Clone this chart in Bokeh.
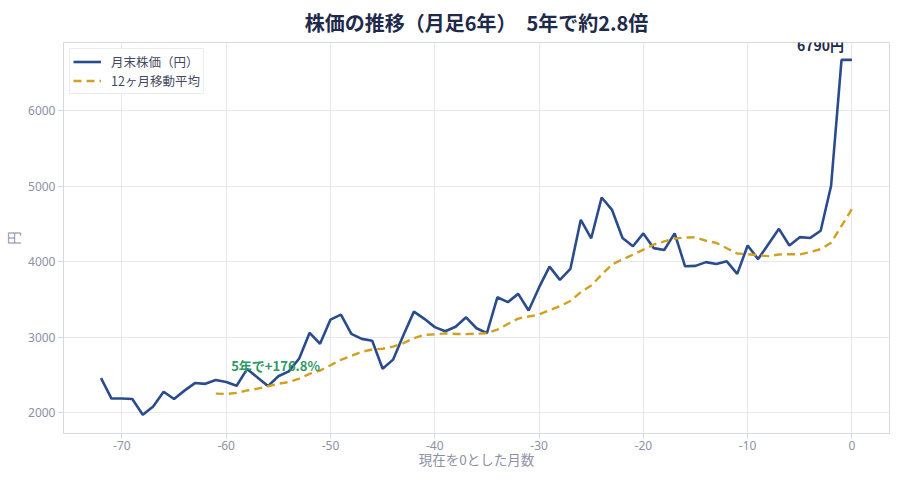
from bokeh.plotting import figure
from bokeh.models import Range1d, FixedTicker
from bokeh.core.properties import value
from bokeh.embed import file_html
from bokeh.resources import INLINE
import pandas as pd

months = list(range(-72, 1))
prices = [
    2460, 2190, 2190, 2185, 1975, 2085, 2280, 2185, 2295, 2395, 2385, 2435,
    2410, 2360, 2580, 2470, 2355, 2485, 2550, 2720, 3060, 2915, 3235, 3300,
    3045, 2980, 2955, 2585, 2705, 3030, 3340, 3245, 3135, 3080, 3140, 3265,
    3120, 3055, 3530, 3465, 3575, 3355, 3660, 3935, 3760, 3905, 4555, 4310,
    4850, 4685, 4315, 4205, 4375, 4180, 4155, 4375, 3940, 3945, 3995, 3970,
    4005, 3840, 4215, 4035, 4235, 4435, 4215, 4325, 4315, 4410, 5005, 6670,
    6670,
]
# 12-month moving average of the monthly closes (as the chart's legend says)
ma12 = pd.Series(prices).rolling(12).mean().tolist()
ma_months = [m for m, v in zip(months, ma12) if v == v]
ma_vals = [v for v in ma12 if v == v]

x_ticks = [-70, -60, -50, -40, -30, -20, -10, 0]
x_tick_labels = ["-70", "-60", "-50", "-40", "-30", "-20", "-10", "0"]
y_ticks = [2000, 3000, 4000, 5000, 6000]
title_text = "株価の推移（月足6年）　5年で約2.8倍"
series_names = ["月末株価（円）", "12ヶ月移動平均"]
last_label = "6790円"
growth_label = "5年で+176.8%"
x_label = "現在を0とした月数"
y_label = "円"

FONT = "Noto Sans CJK JP"
BLUE = "#2b4c8c"
GOLD = "#d0a020"
GREEN = "#2e9964"
GRID = "#e6e8f0"
AXIS = "#d5d9e4"
TICKTXT = "#8c91a6"

p = figure(frame_width=826, frame_height=391, output_backend="svg",
           toolbar_location=None,
           x_range=Range1d(-75.6, 3.6), y_range=Range1d(1728, 6900),
           min_border_left=55, min_border_right=3, min_border_top=34,
           min_border_bottom=0, background_fill_color="white",
           border_fill_color="white")

p.title.text = title_text
p.title.align = "center"
p.title.text_font = FONT
p.title.text_font_size = "20px"
p.title.text_font_style = "bold"
p.title.text_color = "#1e2a4a"
p.title.offset = 0
p.title.standoff = 11

p.line(months, prices, line_color=BLUE, line_width=2.6, legend_label=series_names[0])
p.line(ma_months, ma_vals, line_color=GOLD, line_width=2.4, line_dash="8 5",
       legend_label=series_names[1])

p.text(x=[months[-1]], y=[prices[-1]], text=[last_label], text_font=value(FONT),
       text_font_size="14px", text_font_style="bold", text_color="#1e2a4a",
       text_align="right", text_baseline="bottom", x_offset=-8, y_offset=-5)
p.text(x=[months[12]], y=[prices[12]], text=[growth_label], text_font=value(FONT),
       text_font_size="13px", text_font_style="bold", text_color=GREEN,
       text_align="left", text_baseline="bottom", x_offset=5, y_offset=-7)

p.outline_line_color = AXIS
p.outline_line_width = 1
p.xgrid.grid_line_color = GRID
p.ygrid.grid_line_color = GRID
p.xaxis.ticker = FixedTicker(ticks=x_ticks)
p.xaxis.major_label_overrides = dict(zip(x_ticks, x_tick_labels))
p.yaxis.ticker = FixedTicker(ticks=y_ticks)
for ax in (p.xaxis[0], p.yaxis[0]):
    ax.axis_line_color = AXIS
    ax.major_tick_line_color = AXIS
    ax.major_tick_out = 5
    ax.major_tick_in = 0
    ax.minor_tick_line_color = None
    ax.major_label_text_font = "Noto Sans"
    ax.major_label_text_font_size = "12px"
    ax.major_label_text_color = TICKTXT
    ax.axis_label_text_font = FONT
    ax.axis_label_text_font_size = "13.5px"
    ax.axis_label_text_color = TICKTXT
    ax.axis_label_text_font_style = "normal"
    ax.major_label_standoff = 3
p.xaxis.major_label_standoff = 2
p.xaxis.axis_label = x_label
p.yaxis.axis_label = y_label
p.xaxis.axis_label_standoff = -4
p.yaxis.axis_label_standoff = 2

lg = p.legend[0]
lg.location = "top_left"
lg.margin = 6
lg.padding = 3
lg.spacing = 0
lg.label_text_font = FONT
lg.label_text_font_size = "12.5px"
lg.label_text_color = "#444a5e"
lg.border_line_color = "#d5d9e4"
lg.background_fill_alpha = 1
lg.glyph_width = 28
lg.glyph_height = 17
lg.label_height = 17
lg.label_standoff = 10

open("out.html", "w").write(file_html(p, INLINE))
